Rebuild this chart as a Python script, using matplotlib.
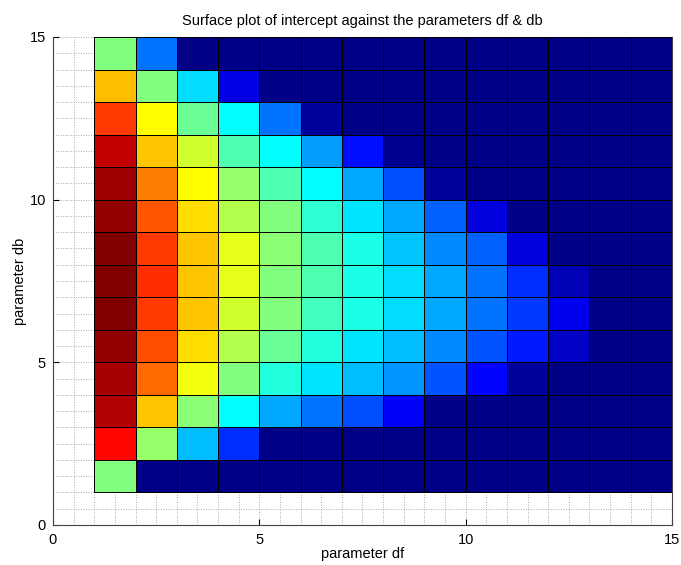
import numpy as np
import matplotlib
matplotlib.use("Agg")
import matplotlib.pyplot as plt
from matplotlib.ticker import MultipleLocator
from matplotlib.colors import LinearSegmentedColormap

plt.rcParams['font.family'] = ['Liberation Sans', 'DejaVu Sans']

# grid of parameter values (cell edges)
df_values = list(range(1, 16))
db_values = list(range(1, 16))

# normalised intercept per cell, rows listed from db = 14..15 down to db = 1..2
intercept_rows = [
    [0.50, 0.24, 0.00, 0.00, 0.00, 0.00, 0.00, 0.00, 0.00, 0.00, 0.00, 0.00, 0.00, 0.00],
    [0.69, 0.50, 0.34, 0.10, 0.00, 0.00, 0.00, 0.00, 0.00, 0.00, 0.00, 0.00, 0.00, 0.00],
    [0.82, 0.625, 0.48, 0.375, 0.24, 0.02, 0.00, 0.00, 0.00, 0.00, 0.00, 0.00, 0.00, 0.00],
    [0.93, 0.68, 0.58, 0.45, 0.375, 0.28, 0.14, 0.01, 0.00, 0.00, 0.00, 0.00, 0.00, 0.00],
    [0.97, 0.75, 0.625, 0.52, 0.45, 0.375, 0.29, 0.20, 0.02, 0.00, 0.00, 0.00, 0.00, 0.00],
    [0.98, 0.79, 0.66, 0.55, 0.50, 0.42, 0.35, 0.29, 0.22, 0.09, 0.00, 0.00, 0.00, 0.00],
    [1.00, 0.82, 0.68, 0.60, 0.51, 0.45, 0.40, 0.32, 0.26, 0.22, 0.09, 0.00, 0.00, 0.00],
    [1.00, 0.83, 0.68, 0.60, 0.50, 0.45, 0.40, 0.34, 0.29, 0.24, 0.17, 0.05, 0.00, 0.00],
    [1.00, 0.82, 0.68, 0.58, 0.50, 0.44, 0.40, 0.34, 0.29, 0.24, 0.18, 0.11, 0.00, 0.00],
    [0.98, 0.80, 0.66, 0.55, 0.48, 0.41, 0.35, 0.31, 0.26, 0.21, 0.15, 0.07, 0.00, 0.00],
    [0.96, 0.77, 0.61, 0.50, 0.41, 0.35, 0.31, 0.27, 0.21, 0.13, 0.02, 0.00, 0.00, 0.00],
    [0.95, 0.68, 0.51, 0.375, 0.29, 0.24, 0.20, 0.12, 0.00, 0.00, 0.00, 0.00, 0.00, 0.00],
    [0.87, 0.52, 0.31, 0.17, 0.00, 0.00, 0.00, 0.00, 0.00, 0.00, 0.00, 0.00, 0.00, 0.00],
    [0.50, 0.00, 0.00, 0.00, 0.00, 0.00, 0.00, 0.00, 0.00, 0.00, 0.00, 0.00, 0.00, 0.00],
]

major_ticks = [0, 5, 10, 15]

# classic MATLAB-style jet colour ramp
jet_classic = LinearSegmentedColormap('jet_classic', {
    'red':   [(0, 0, 0), (0.375, 0, 0), (0.625, 1, 1), (0.875, 1, 1), (1, 0.5, 0.5)],
    'green': [(0, 0, 0), (0.125, 0, 0), (0.375, 1, 1), (0.625, 1, 1), (0.875, 0, 0), (1, 0, 0)],
    'blue':  [(0, 0.53, 0.53), (0.125, 1, 1), (0.375, 1, 1), (0.625, 0, 0), (1, 0, 0)],
}, N=256)

fig = plt.figure(figsize=(6.81, 5.65), dpi=100)
ax = fig.add_axes([53 / 681, 1 - 525 / 565, (672 - 53) / 681, (525 - 37) / 565])

Z = np.array(intercept_rows)[::-1]
ax.pcolormesh(df_values, db_values, Z, cmap=jet_classic, vmin=0, vmax=1,
              edgecolors='black', linewidth=0.6, zorder=2)

ax.set_xlim(0, 15)
ax.set_ylim(0, 15)
ax.set_xticks(major_ticks)
ax.set_yticks(major_ticks)
ax.xaxis.set_minor_locator(MultipleLocator(0.5))
ax.yaxis.set_minor_locator(MultipleLocator(0.5))
ax.tick_params(which='major', direction='in', length=4, width=0.8,
               labelsize=10.5)
ax.tick_params(axis='x', which='major', pad=6)
ax.tick_params(axis='y', which='major', pad=5)
ax.tick_params(which='minor', length=0)
ax.grid(True, which='both', linestyle=(0, (1, 2)), color='#8f8f8f',
        linewidth=0.6, zorder=0)
ax.set_axisbelow(True)

for side in ('left', 'bottom', 'right'):
    ax.spines[side].set_color('#444444')
    ax.spines[side].set_linewidth(0.8)
ax.spines['top'].set_visible(False)

ax.set_title('Surface plot of intercept against the parameters df & db',
             fontsize=10.5, pad=9)
ax.set_xlabel('parameter df', fontsize=10.5, labelpad=0)
ax.set_ylabel('parameter db', fontsize=10.5, labelpad=2)

fig.savefig('out.png', dpi=100)
